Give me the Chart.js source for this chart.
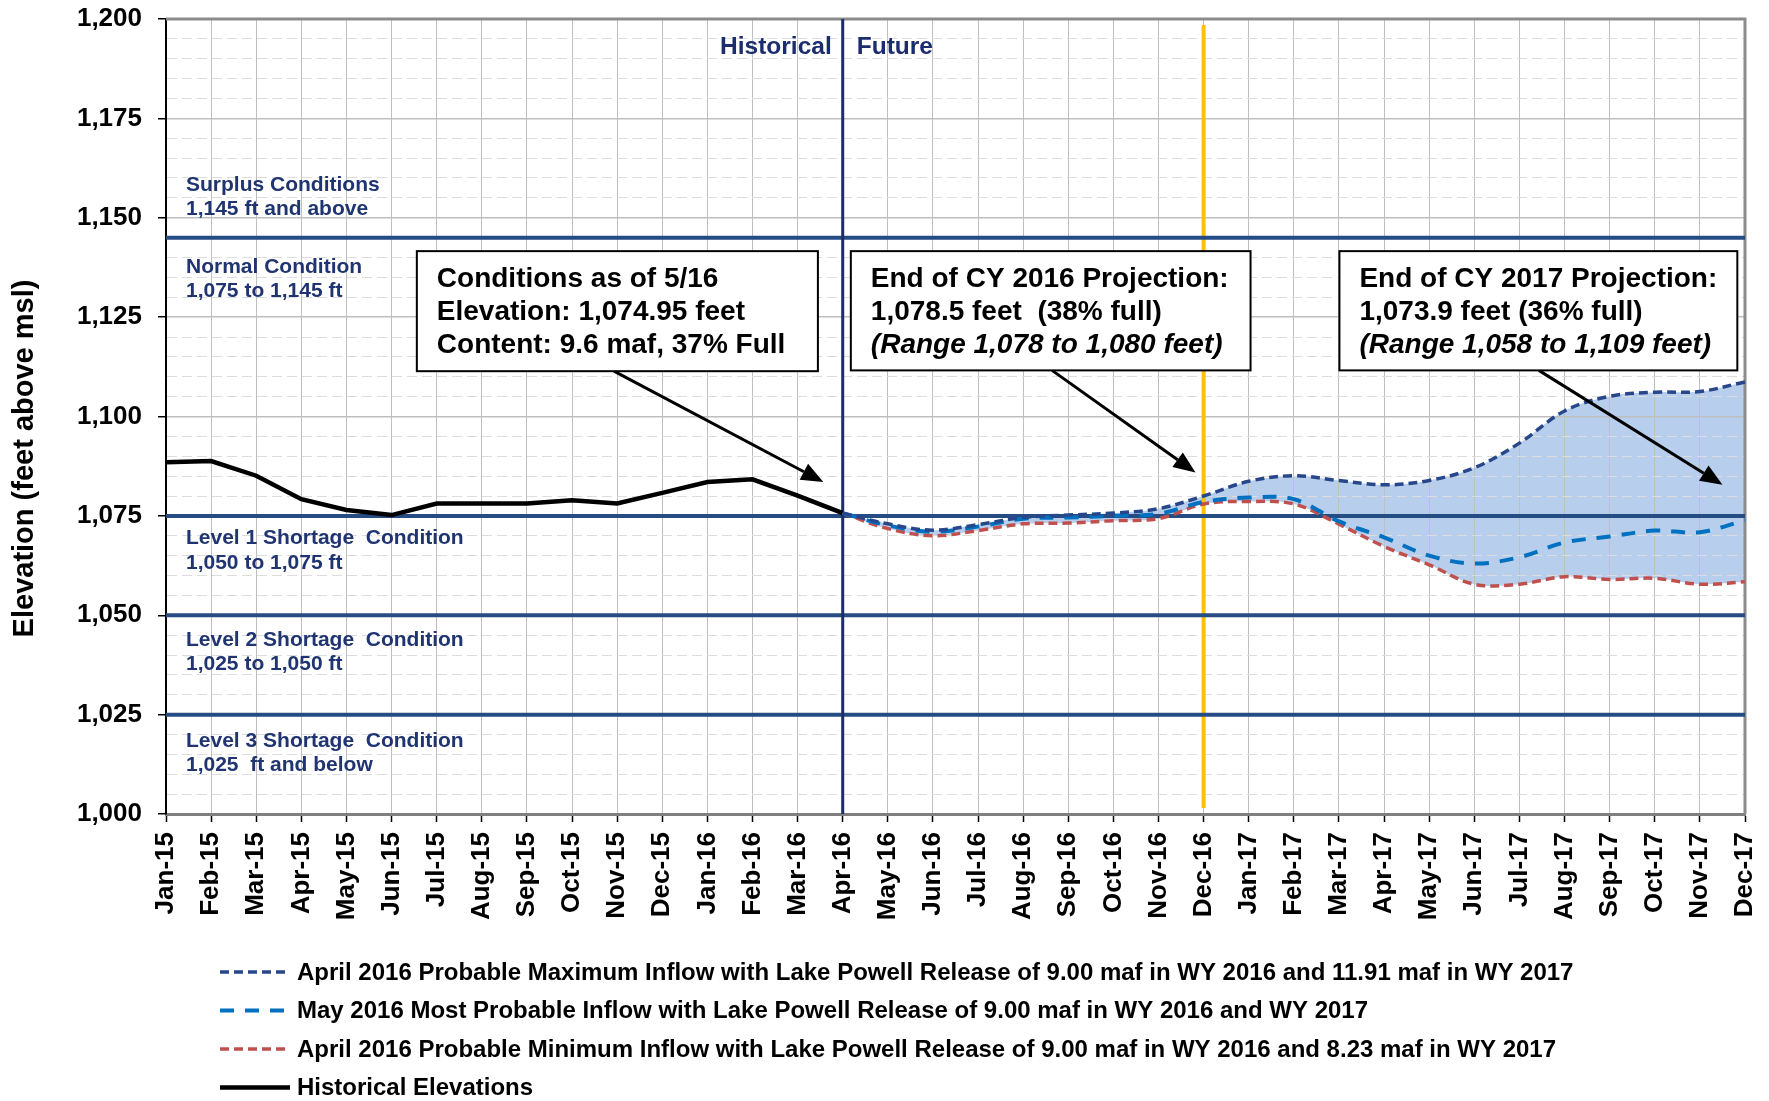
<!DOCTYPE html>
<html>
<head>
<meta charset="utf-8">
<script src="https://cdn.jsdelivr.net/npm/chart.js@4.4.0/dist/chart.umd.min.js"></script>
<style>
  html, body { margin: 0; padding: 0; background: #fff; }
  #wrap { width: 1769px; height: 1101px; }
</style>
</head>
<body>
<div id="wrap"><canvas id="chart" width="1769" height="1101"></canvas></div>
<script>
// months on the x axis
const months = [
  'Jan-15', 'Feb-15', 'Mar-15', 'Apr-15', 'May-15', 'Jun-15', 'Jul-15', 'Aug-15', 'Sep-15', 'Oct-15', 'Nov-15', 'Dec-15',
  'Jan-16', 'Feb-16', 'Mar-16', 'Apr-16', 'May-16', 'Jun-16', 'Jul-16', 'Aug-16', 'Sep-16', 'Oct-16', 'Nov-16', 'Dec-16',
  'Jan-17', 'Feb-17', 'Mar-17', 'Apr-17', 'May-17', 'Jun-17', 'Jul-17', 'Aug-17', 'Sep-17', 'Oct-17', 'Nov-17', 'Dec-17',
];

// Jan-15 .. Apr-16
const historical = [1088.5, 1088.8, 1085.1, 1079.2, 1076.5, 1075.2, 1078.1, 1078.1, 1078.1, 1078.9, 1078.1, 1080.8,
  1083.5, 1084.2, 1080.1, 1075.7];

// Apr-16 .. Dec-17
const maxInflow = [1075.7, 1073.0, 1071.4, 1072.8, 1074.6, 1075.2, 1075.7, 1076.8, 1080.0, 1083.7, 1085.1, 1083.9,
  1082.8, 1083.9, 1087.1, 1093.3, 1101.4, 1105.1, 1106.1, 1106.3, 1108.7];
const mostProbable = [1075.7, 1072.6, 1071.0, 1072.3, 1074.3, 1074.6, 1075.0, 1075.5, 1078.5, 1079.6, 1079.2, 1073.6,
  1069.6, 1065.0, 1063.0, 1064.6, 1068.3, 1069.8, 1071.3, 1070.9, 1073.9];
const minInflow = [1075.7, 1071.8, 1070.0, 1071.3, 1073.0, 1073.2, 1073.8, 1074.3, 1078.0, 1078.6, 1078.0, 1072.9,
  1067.3, 1062.7, 1057.8, 1057.8, 1059.7, 1059.0, 1059.3, 1057.8, 1058.4];

const seriesLabels = [
  'April 2016 Probable Maximum Inflow with Lake Powell Release of 9.00 maf in WY 2016 and 11.91 maf in WY 2017',
  'May 2016 Most Probable Inflow with Lake Powell Release of 9.00 maf in WY 2016 and WY 2017',
  'April 2016 Probable Minimum Inflow with Lake Powell Release of 9.00 maf in WY 2016 and 8.23 maf in WY 2017',
  'Historical Elevations',
];

// operating tiers (ft)
const tierLevels = [1145, 1075, 1050, 1025];
const tierLabels = [
  ['Surplus Conditions', '1,145 ft and above'],
  ['Normal Condition', '1,075 to 1,145 ft'],
  ['Level 1 Shortage  Condition', '1,050 to 1,075 ft'],
  ['Level 2 Shortage  Condition', '1,025 to 1,050 ft'],
  ['Level 3 Shortage  Condition', '1,025  ft and below'],
];
const tierLabelY = [[1156.8, 1150.7], [1136.1, 1130.1], [1067.9, 1061.7], [1042.3, 1036.3], [1016.8, 1010.8]];

const calloutText = [
  ['Conditions as of 5/16', 'Elevation: 1,074.95 feet', 'Content: 9.6 maf, 37% Full'],
  ['End of CY 2016 Projection:', '1,078.5 feet  (38% full)', '(Range 1,078 to 1,080 feet)'],
  ['End of CY 2017 Projection:', '1,073.9 feet (36% full)', '(Range 1,058 to 1,109 feet)'],
];
// box [left idx, right idx, top val, bottom val], arrow from / to [idx, val]
const calloutPos = [
  { box: [5.56, 14.45, 1141.6, 1111.4], from: [9.93, 1111.4], to: [14.57, 1083.5], italicLast: false },
  { box: [15.18, 24.04, 1141.6, 1111.6], from: [19.64, 1111.6], to: [22.82, 1085.9], italicLast: true },
  { box: [26.01, 34.83, 1141.6, 1111.6], from: [30.43, 1111.6], to: [34.5, 1082.8], italicLast: true },
];

const FONT = "'Liberation Sans', Arial, sans-serif";
const NAVY = '#1C2D6E';
const TIER_BLUE = '#264C84';
const TEXT_NAVY = '#1F3470';

const nulls = n => Array(n).fill(null);
const splitIdx = months.indexOf('Apr-16');
const futureLen = months.length - splitIdx;

function line(ctx, x1, y1, x2, y2) {
    ctx.beginPath();
    ctx.moveTo(x1, y1);
    ctx.lineTo(x2, y2);
    ctx.stroke();
}

function arrow(ctx, x1, y1, x2, y2) {
    const ang = Math.atan2(y2 - y1, x2 - x1);
    const head = 22, half = 9;
    const bx = x2 - head * Math.cos(ang), by = y2 - head * Math.sin(ang);
    ctx.lineWidth = 3;
    line(ctx, x1, y1, bx, by);
    ctx.beginPath();
    ctx.moveTo(x2, y2);
    ctx.lineTo(bx + half * Math.sin(ang), by - half * Math.cos(ang));
    ctx.lineTo(bx - half * Math.sin(ang), by + half * Math.cos(ang));
    ctx.closePath();
    ctx.fill();
}

const overlays = {
    id: 'overlays',
    beforeDatasetsDraw(chart) {
        const { ctx, chartArea: a, scales: { x, y } } = chart;
        ctx.save();

        // plot frame (top / right)
        ctx.strokeStyle = '#8C8C8C';
        ctx.lineWidth = 3;
        ctx.beginPath();
        ctx.moveTo(a.left, a.top);
        ctx.lineTo(a.right, a.top);
        ctx.lineTo(a.right, a.bottom);
        ctx.stroke();

        // end of CY 2016 marker
        const xd = x.getPixelForValue(months.indexOf('Dec-16'));
        ctx.strokeStyle = '#FFC000';
        ctx.lineWidth = 4;
        line(ctx, xd, y.getPixelForValue(1198.5), xd, y.getPixelForValue(1001.5));

        // tier lines
        ctx.strokeStyle = TIER_BLUE;
        ctx.lineWidth = 4;
        tierLevels.forEach(v => {
            const py = y.getPixelForValue(v);
            line(ctx, a.left, py, a.right, py);
        });

        // historical / future split
        const xs = x.getPixelForValue(splitIdx);
        ctx.strokeStyle = NAVY;
        ctx.lineWidth = 3;
        line(ctx, xs, a.top, xs, a.bottom);

        // tier labels
        ctx.fillStyle = TEXT_NAVY;
        ctx.font = `bold 21px ${FONT}`;
        ctx.textAlign = 'left';
        ctx.textBaseline = 'alphabetic';
        tierLabels.forEach((lines, i) => {
            lines.forEach((t, j) => ctx.fillText(t, a.left + 20, y.getPixelForValue(tierLabelY[i][j])));
        });

        ctx.font = `bold 24.5px ${FONT}`;
        ctx.fillStyle = NAVY;
        ctx.textAlign = 'right';
        ctx.fillText('Historical', xs - 11, a.top + 35);
        ctx.textAlign = 'left';
        ctx.fillText('Future', xs + 14, a.top + 35);

        // axis title (sits a little below the axis middle, as in the source)
        ctx.save();
        ctx.translate(25, (a.top + a.bottom) / 2 + 42);
        ctx.rotate(-Math.PI / 2);
        ctx.font = `bold 29px ${FONT}`;
        ctx.fillStyle = '#000';
        ctx.textAlign = 'center';
        ctx.textBaseline = 'middle';
        ctx.fillText('Elevation (feet above msl)', 0, 0);
        ctx.restore();

        ctx.restore();
    },
    afterDatasetsDraw(chart) {
        const { ctx, scales: { x, y } } = chart;
        ctx.save();
        calloutPos.forEach((c, i) => {
            const l = x.getPixelForValue(c.box[0]), r = x.getPixelForValue(c.box[1]);
            const t = y.getPixelForValue(c.box[2]), b = y.getPixelForValue(c.box[3]);
            ctx.fillStyle = '#000';
            ctx.strokeStyle = '#000';
            arrow(ctx, x.getPixelForValue(c.from[0]), y.getPixelForValue(c.from[1]),
                x.getPixelForValue(c.to[0]), y.getPixelForValue(c.to[1]));
            ctx.fillStyle = '#fff';
            ctx.fillRect(l, t, r - l, b - t);
            ctx.lineWidth = 2;
            ctx.strokeRect(l, t, r - l, b - t);
            ctx.fillStyle = '#000';
            ctx.textAlign = 'left';
            ctx.textBaseline = 'alphabetic';
            calloutText[i].forEach((txt, j) => {
                const italic = c.italicLast && j === 2 ? 'italic ' : '';
                ctx.font = `${italic}bold 28px ${FONT}`;
                ctx.fillText(txt, l + 20, t + 36 + j * 33);
            });
        });
        ctx.restore();
    },
    afterDraw(chart) {
        const { ctx, chartArea: a } = chart;
        ctx.save();
        ctx.font = `bold 24px ${FONT}`;
        ctx.textBaseline = 'middle';
        ctx.textAlign = 'left';
        chart.data.datasets.forEach((ds, i) => {
            const cy = a.bottom + 158 + i * 38.5;
            const x0 = a.left + 54;
            ctx.strokeStyle = ds.borderColor;
            ctx.lineWidth = ds.borderWidth;
            ctx.setLineDash(ds.borderDash || []);
            line(ctx, x0, cy, x0 + 70, cy);
            ctx.setLineDash([]);
            ctx.fillStyle = '#000';
            ctx.fillText(ds.label, x0 + 77, cy + 1);
        });
        ctx.restore();
    },
};

const isMajor = c => c.tick && c.tick.value % 25 === 0;

new Chart(document.getElementById('chart'), {
    type: 'line',
    data: {
        labels: months,
        datasets: [
            {
                label: seriesLabels[0],
                data: [...nulls(splitIdx), ...maxInflow],
                borderColor: '#28478A',
                borderWidth: 3.5,
                borderDash: [9, 5],
                backgroundColor: 'rgba(138,176,224,0.62)',
                fill: '+2',
                pointRadius: 0,
                tension: 0.35,
            },
            {
                label: seriesLabels[1],
                data: [...nulls(splitIdx), ...mostProbable],
                borderColor: '#0070C0',
                borderWidth: 4,
                borderDash: [14, 11],
                fill: false,
                pointRadius: 0,
                tension: 0.35,
            },
            {
                label: seriesLabels[2],
                data: [...nulls(splitIdx), ...minInflow],
                borderColor: '#C0504D',
                borderWidth: 3.5,
                borderDash: [9, 5],
                fill: false,
                pointRadius: 0,
                tension: 0.35,
            },
            {
                label: seriesLabels[3],
                data: [...historical, ...nulls(futureLen - 1)],
                borderColor: '#000',
                borderWidth: 4.5,
                fill: false,
                pointRadius: 0,
                tension: 0,
            },
        ],
    },
    options: {
        responsive: false,
        animation: false,
        devicePixelRatio: 1,
        layout: { padding: { left: 0, right: 24, top: 19, bottom: 0 } },
        plugins: {
            legend: { display: false },
            tooltip: { enabled: false },
            filler: { drawTime: 'beforeDraw' },
        },
        scales: {
            x: {
                grid: { color: '#BFBFBF', lineWidth: 1, tickLength: 8, tickColor: '#000', tickWidth: 1.5 },
                border: { color: '#7F7F7F', width: 3 },
                ticks: {
                    autoSkip: false, maxRotation: 90, minRotation: 90, padding: 10, color: '#000',
                    font: { family: FONT, size: 26, weight: 'bold' },
                },
                afterFit: s => { s.height = 287; s.paddingLeft = 0; s.paddingRight = 0; },
            },
            y: {
                min: 1000,
                max: 1200,
                ticks: {
                    stepSize: 5, autoSkip: false, padding: 16, color: '#000',
                    font: { family: FONT, size: 26, weight: 'bold' },
                    callback: v => v % 25 === 0 ? v.toLocaleString('en-US') : '',
                },
                grid: {
                    color: c => isMajor(c) ? '#BFBFBF' : '#DDDDDD',
                    lineWidth: c => isMajor(c) ? 1.5 : 1,
                    tickLength: 8,
                    tickColor: c => isMajor(c) ? '#000' : 'rgba(0,0,0,0)',
                    tickWidth: 1.5,
                },
                border: { color: '#000', width: 2, dash: c => (c.tick && c.tick.value % 25 !== 0) ? [10, 5] : [] },
                afterFit: s => { s.width = 166; s.paddingTop = 0; s.paddingBottom = 0; },
            },
        },
    },
    plugins: [overlays],
});
</script>
</body>
</html>
